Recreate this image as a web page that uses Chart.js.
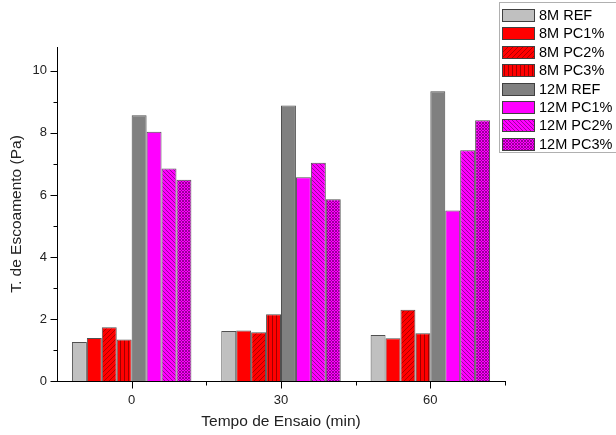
<!DOCTYPE html>
<html>
<head>
<meta charset="utf-8">
<script src="https://cdn.jsdelivr.net/npm/chart.js@4/dist/chart.umd.min.js"></script>
<style>
  html, body { margin: 0; padding: 0; background: #fff; }
  #wrap { position: relative; width: 616px; height: 435px; }
</style>
</head>
<body>
<div id="wrap"><canvas id="c" width="616" height="435"></canvas></div>
<script>
// Test times (min)
const categories = ['0', '30', '60'];
const yTickLabels = ['0', '2', '4', '6', '8', '10'];

// Yield stress (Pa) per mortar mix
const ref8M  = [1.26, 1.61, 1.48];
const pc1_8M = [1.39, 1.63, 1.38];
const pc2_8M = [1.73, 1.57, 2.30];
const pc3_8M = [1.34, 2.15, 1.54];
const ref12M  = [8.57, 8.88, 9.34];
const pc1_12M = [8.04, 6.57, 5.50];
const pc2_12M = [6.85, 7.04, 7.44];
const pc3_12M = [6.49, 5.86, 8.41];

const seriesLabels = ['8M REF', '8M PC1%', '8M PC2%', '8M PC3%', '12M REF', '12M PC1%', '12M PC2%', '12M PC3%'];
const seriesValues = [ref8M, pc1_8M, pc2_8M, pc3_8M, ref12M, pc1_12M, pc2_12M, pc3_12M];

// Fill patterns for the hatched bars
function makePattern(bg, fg, kind, size) {
  const c = document.createElement('canvas');
  c.width = size; c.height = size;
  const g = c.getContext('2d');
  g.fillStyle = bg;
  g.fillRect(0, 0, size, size);
  g.strokeStyle = fg;
  g.lineWidth = 1;
  g.beginPath();
  if (kind === 'fwd' || kind === 'cross') {
    g.moveTo(-1, size + 1); g.lineTo(size + 1, -1);
    g.moveTo(-1, 1); g.lineTo(1, -1);
    g.moveTo(size - 1, size + 1); g.lineTo(size + 1, size - 1);
  }
  if (kind === 'back' || kind === 'cross') {
    g.moveTo(-1, -1); g.lineTo(size + 1, size + 1);
    g.moveTo(size - 1, -1); g.lineTo(size + 1, 1);
    g.moveTo(-1, size - 1); g.lineTo(1, size + 1);
  }
  if (kind === 'vert') {
    g.moveTo(0.5, 0); g.lineTo(0.5, size);
  }
  g.stroke();
  return g.createPattern(c, 'repeat');
}

const fills = [
  '#c0c0c0',
  '#ff0000',
  makePattern('#ff0000', '#b00000', 'fwd', 5),
  makePattern('#ff0000', '#a00000', 'vert', 4),
  '#808080',
  '#ff00ff',
  makePattern('#ff00ff', '#a000a0', 'back', 4),
  makePattern('#ff00ff', '#9a009a', 'cross', 3)
];

const datasets = seriesLabels.map((label, i) => ({
  label: label,
  data: seriesValues[i],
  backgroundColor: fills[i],
  borderColor: '#505050',
  borderWidth: 1,
  borderSkipped: 'bottom',
  categoryPercentage: 0.8,
  barPercentage: 1.0
}));

// Tick marks (major and minor) drawn against the chart's own scales
const tickMarks = {
  id: 'tickMarks',
  afterDraw(chart) {
    const ctx = chart.ctx;
    const x = chart.scales.x, y = chart.scales.y;
    ctx.save();
    ctx.strokeStyle = '#000';
    ctx.lineWidth = 1;
    ctx.beginPath();
    const ax = Math.round(x.left) + 0.5;
    for (let v = 0; v <= 10; v++) {
      const py = Math.round(y.getPixelForValue(v)) + 0.5;
      const len = v % 2 === 0 ? 7 : 4;
      ctx.moveTo(ax - len, py); ctx.lineTo(ax, py);
    }
    const ay = Math.round(y.bottom) + 0.5;
    for (let i = 0; i < categories.length; i++) {
      const px = Math.round(x.getPixelForValue(i)) + 0.5;
      ctx.moveTo(px, ay); ctx.lineTo(px, ay + 7);
      const pb = Math.round(x.getPixelForValue(i + 0.5)) + 0.5;
      ctx.moveTo(pb, ay); ctx.lineTo(pb, ay + 4);
    }
    ctx.stroke();
    ctx.restore();
  }
};

// Boxed legend in the upper right corner
const boxLegend = {
  id: 'boxLegend',
  afterDraw(chart) {
    const ctx = chart.ctx;
    const bx = 499.5, by = 2.5, bw = 120, bh = 150;
    ctx.save();
    ctx.fillStyle = '#fff';
    ctx.fillRect(bx, by, bw, bh);
    ctx.strokeStyle = '#b0b0b0';
    ctx.lineWidth = 1;
    ctx.strokeRect(bx, by, bw, bh);
    ctx.font = '14.5px "Liberation Sans", Arial, sans-serif';
    ctx.textBaseline = 'middle';
    ctx.textAlign = 'left';
    chart.data.datasets.forEach((ds, i) => {
      const cy = 15 + i * 18.4;
      const sy = Math.round(cy - 6) + 0.5;
      ctx.fillStyle = ds.backgroundColor;
      ctx.fillRect(502.5, sy, 32, 12);
      ctx.strokeStyle = '#404040';
      ctx.strokeRect(502.5, sy, 32, 12);
      ctx.fillStyle = '#000';
      ctx.fillText(ds.label, 539, cy + 1);
    });
    ctx.restore();
  }
};

new Chart(document.getElementById('c'), {
  type: 'bar',
  data: { labels: categories, datasets: datasets },
  plugins: [tickMarks, boxLegend],
  options: {
    responsive: false,
    animation: false,
    devicePixelRatio: 1,
    layout: { padding: { top: 47, right: 111, bottom: 0, left: 0 } },
    plugins: {
      legend: { display: false },
      tooltip: { enabled: false }
    },
    scales: {
      x: {
        type: 'category',
        offset: true,
        grid: { display: false, drawTicks: false },
        border: { display: true, color: '#000', width: 1 },
        ticks: {
          color: '#222',
          font: { family: '"Liberation Sans", Arial, sans-serif', size: 13 },
          padding: 12,
          maxRotation: 0
        },
        title: {
          display: true,
          text: 'Tempo de Ensaio (min)',
          color: '#222',
          font: { family: '"Liberation Sans", Arial, sans-serif', size: 15.5 },
          padding: { top: 4, bottom: 4 }
        },
        afterFit(s) { s.height = 54; }
      },
      y: {
        min: 0,
        max: 10.77,
        grid: { display: false, drawTicks: false },
        border: { display: true, color: '#000', width: 1 },
        afterBuildTicks(s) {
          s.ticks = yTickLabels.map(t => ({ value: Number(t) }));
        },
        ticks: {
          color: '#222',
          font: { family: '"Liberation Sans", Arial, sans-serif', size: 13 },
          padding: 10,
          callback: (v) => String(v)
        },
        title: {
          display: true,
          text: 'T. de Escoamento (Pa)',
          color: '#222',
          font: { family: '"Liberation Sans", Arial, sans-serif', size: 15.5 },
          padding: { top: 7, bottom: 4 }
        },
        afterFit(s) { s.width = 57; }
      }
    }
  }
});
</script>
</body>
</html>
